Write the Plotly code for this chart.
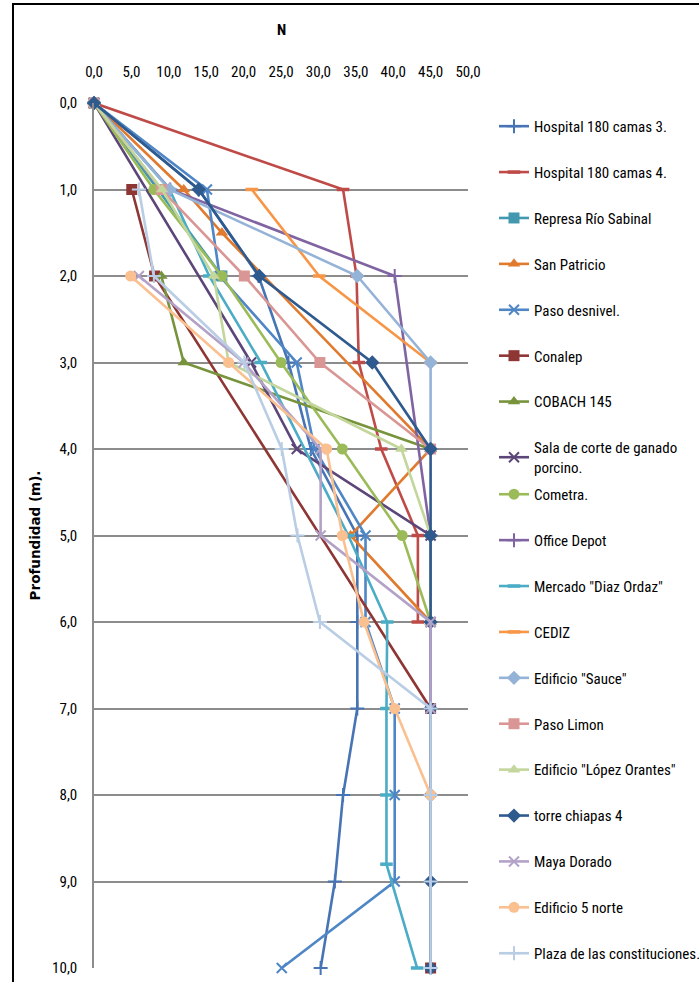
import plotly.graph_objects as go

# ---------------- data (depth in m, N blows) ----------------
names = [
    "Hospital 180 camas 3.", "Hospital 180 camas 4.", "Represa Río Sabinal",
    "San Patricio", "Paso desnivel.", "Conalep", "COBACH 145",
    "Sala de corte de ganado<br>porcino.", "Cometra.", "Office Depot",
    'Mercado "Diaz Ordaz"', "CEDIZ", 'Edificio "Sauce"', "Paso Limon",
    'Edificio "López Orantes"', "torre chiapas 4", "Maya Dorado",
    "Edificio 5 norte", "Plaza de las constituciones.",
]

depth_hosp3 = [0, 1, 2, 3, 4, 5, 6, 7, 8, 9, 10]
n_hosp3 = [0, 14, 22, 26, 29, 35.2, 35.2, 35.2, 33.3, 32.2, 30.3]

depth_hosp4 = [0, 1, 2, 3, 4, 5, 6]
n_hosp4 = [0, 33.3, 35.1, 35.4, 38.4, 43.3, 43.3]

depth_represa = [0, 2]
n_represa = [0, 17.1]

depth_sanpatricio = [0, 1, 1.5, 4, 5, 6]
n_sanpatricio = [0, 12, 17.1, 45, 34.3, 45]

depth_pasodesnivel = [0, 1, 2, 3, 4, 5, 6, 7, 8, 9, 10]
n_pasodesnivel = [0, 15.1, 16.8, 27.1, 29.5, 36.3, 36.3, 40.2, 40.2, 40.2, 25.1]

depth_conalep = [1, 2, 7, 10]
n_conalep = [5.05, 8.1, 45, 45]

depth_cobach = [2, 3, 4]
n_cobach = [9, 12, 45]

depth_sala = [0, 3, 4, 5, 6]
n_sala = [0, 21, 27.1, 45, 45]

depth_cometra = [0, 1, 2, 3, 4, 5, 6]
n_cometra = [0, 8, 17.1, 25, 33.2, 41.2, 45]

depth_office = [0, 1, 2, 5]
n_office = [0, 10.2, 40.2, 45]

depth_mercado = [0, 1, 2, 3, 5, 6, 7, 8, 8.8, 10]
n_mercado = [0, 10.1, 15.4, 22.3, 34, 39.2, 39.1, 39.1, 39.1, 43.2]

depth_cediz = [1, 2, 3]
n_cediz = [21.1, 30.1, 45]

depth_sauce = [0, 1, 2, 3, 4]
n_sauce = [0, 10.1, 35.2, 45, 45]

depth_pasolimon = [0, 1, 2, 3, 4]
n_pasolimon = [0, 9, 20.1, 30.2, 45]

depth_lopez = [0, 1, 2, 3, 4, 5, 6]
n_lopez = [0, 9.1, 16, 18, 41.1, 45, 45]

depth_torre = [0, 1, 2, 3, 4, 5, 6, 7, 8, 9, 10]
n_torre = [0, 14, 22.1, 37.2, 45, 45, 45, 45, 45, 45, 45]

depth_maya = [2, 3, 4, 5, 6, 7]
n_maya = [6, 20, 30.3, 30.3, 45, 45]

depth_5norte = [2, 3, 4, 5, 6, 7, 8]
n_5norte = [4.9, 18, 31.1, 33.2, 36.1, 40.2, 45]

depth_plaza = [1, 2, 3, 4, 5, 6, 7, 8, 9, 10]
n_plaza = [6, 8, 20.1, 25.1, 27.2, 30.2, 45, 45, 45, 45]

x_ticks = [0, 5, 10, 15, 20, 25, 30, 35, 40, 45, 50]
y_ticks = [0, 1, 2, 3, 4, 5, 6, 7, 8, 9, 10]

series_depths = [depth_hosp3, depth_hosp4, depth_represa, depth_sanpatricio,
                 depth_pasodesnivel, depth_conalep, depth_cobach, depth_sala,
                 depth_cometra, depth_office, depth_mercado, depth_cediz,
                 depth_sauce, depth_pasolimon, depth_lopez, depth_torre,
                 depth_maya, depth_5norte, depth_plaza]
series_n = [n_hosp3, n_hosp4, n_represa, n_sanpatricio, n_pasodesnivel,
            n_conalep, n_cobach, n_sala, n_cometra, n_office, n_mercado,
            n_cediz, n_sauce, n_pasolimon, n_lopez, n_torre, n_maya,
            n_5norte, n_plaza]

# ---------------- styles ----------------
colors = ["#4674B4", "#BE4B48", "#4198AF", "#E07A2E", "#4F86C6", "#8E3634",
          "#77933C", "#5C4679", "#9BBB59", "#8064A2", "#4BACC6", "#F79646",
          "#95B3D7", "#D99694", "#C3D69B", "#2F5A8E", "#B3A2C7", "#FAC090",
          "#B9CDE5"]
symbols = ["cross-thin", "line-ew", "square", "triangle-up", "x-thin",
           "square", "triangle-up", "x-thin", "circle", "cross-thin",
           "line-ew", "line-ew", "diamond", "square", "triangle-up",
           "diamond", "x-thin", "circle", "cross-thin"]
sizes = [10, 9, 11, 11, 10, 11, 11, 10, 11, 10, 9, 9, 11, 11, 11, 11, 10, 11, 10]
thin = {"cross-thin", "x-thin", "line-ew"}

fig = go.Figure()
for i, (nm, d, n) in enumerate(zip(names, series_depths, series_n)):
    sym = symbols[i]
    mk = dict(symbol=sym, size=sizes[i], color=colors[i])
    if sym in thin:
        mk["line"] = dict(color=colors[i], width=2 if sym != "line-ew" else 3.5)
    else:
        mk["line"] = dict(width=0)
    fig.add_trace(go.Scatter(
        x=n, y=d, mode="lines+markers", name=nm,
        line=dict(color=colors[i], width=2.6),
        marker=mk, cliponaxis=False,
        legendgroup=f"g{i}",
        legend="legend" if i < 8 else "legend2",
    ))

font_fam = "Liberation Sans Narrow, Arial Narrow, Roboto Condensed, Liberation Sans, sans-serif"

fig.update_layout(
    width=699, height=982,
    margin=dict(l=94, r=231, t=103, b=14, autoexpand=False),
    paper_bgcolor="white", plot_bgcolor="white",
    separators=",.",
    font=dict(family=font_fam, size=15, color="#000000"),
    xaxis=dict(range=[0, 50], side="top", tickvals=x_ticks, tickformat=".1f",
               showgrid=False, zeroline=False, showline=False, ticks="",
               ticklabelstandoff=22, tickfont=dict(size=15)),
    yaxis=dict(range=[10, 0], tickvals=y_ticks, tickformat=".1f",
               showgrid=True, gridcolor="#8C8C8C", gridwidth=1.5,
               zeroline=False, showline=True, linecolor="#8C8C8C",
               linewidth=1.5, ticks="", ticklabelstandoff=12,
               tickfont=dict(size=15)),
    legend=dict(x=1.0695, xanchor="left", y=0.992, yanchor="top",
                tracegroupgap=23.4, itemwidth=30, font=dict(size=15),
                bgcolor="rgba(0,0,0,0)"),
    legend2=dict(x=1.0695, xanchor="left", y=0.5665, yanchor="top",
                 tracegroupgap=23.4, itemwidth=30, font=dict(size=15),
                 bgcolor="rgba(0,0,0,0)"),
    showlegend=True,
    annotations=[
        dict(text="<b>N</b>", xref="paper", yref="paper", x=0.5, y=1.0844,
             showarrow=False, font=dict(size=15), xanchor="center",
             yanchor="middle"),
        dict(text="<b>Profundidad (m).</b>", xref="paper", yref="paper",
             x=-0.158, y=0.5, textangle=-90, showarrow=False,
             font=dict(size=13.5, family="DejaVu Sans"), xanchor="center",
             yanchor="middle"),
    ],
    shapes=[
        dict(type="rect", xref="paper", yref="paper",
             x0=-0.2166, x1=1.7, y0=-0.1, y1=1.1145,
             line=dict(color="black", width=2), fillcolor="rgba(0,0,0,0)",
             layer="below"),
    ],
)

fig.write_html("out.html")
